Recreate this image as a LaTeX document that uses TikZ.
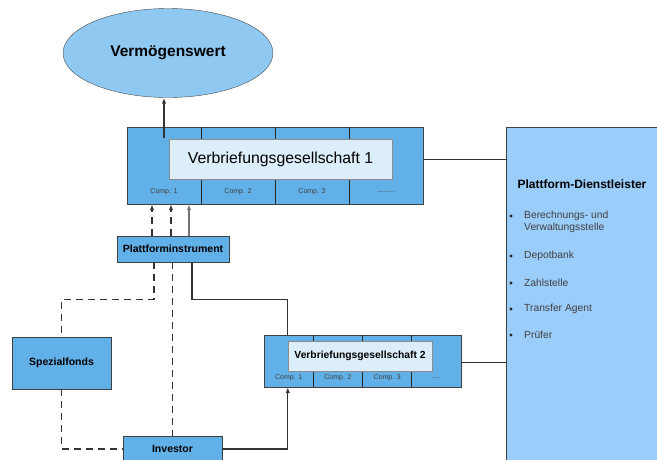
\documentclass[tikz,border=0pt]{standalone}
\usepackage{fontspec}
\setmainfont{Liberation Sans}
\usetikzlibrary{arrows.meta,shapes.geometric}
\definecolor{boxblue}{HTML}{62B0E8}
\definecolor{assetblue}{HTML}{8FC8F0}
\definecolor{paleblue}{HTML}{DCEEFA}
\definecolor{sideblue}{HTML}{9BCDFA}
\definecolor{linegray}{HTML}{333333}
\begin{document}
\begin{tikzpicture}[x=1pt, y=-1pt, >={Latex[length=6pt,width=4.5pt]},
  box/.style={draw=black!75, fill=boxblue, rectangle, inner sep=0pt},
  inbox/.style={draw=black!45, fill=paleblue, rectangle, inner sep=0pt},
  comp/.style={font=\fontsize{7}{8}\selectfont, text=black!75},
  item/.style={font=\fontsize{10.3}{12}\selectfont, text=black!75, inner sep=0pt},
  conn/.style={draw=linegray, line width=1.2pt},
  dashconn/.style={conn, dash pattern=on 7pt off 5pt}]
\useasboundingbox (0,0) rectangle (657,459);

% Asset
\node[draw=black!70, fill=assetblue, ellipse, minimum width=210pt, minimum height=89pt, inner sep=0pt,
  font=\fontsize{15.5}{18}\selectfont\bfseries] (asset) at (168,53) {Vermögenswert};

% Service provider
\node[box, fill=sideblue, minimum width=156pt, minimum height=335pt] (pd) at (584,294.5) {};
\node[font=\fontsize{12}{14}\selectfont\bfseries] (pdtitle) at (582,184) {Plattform-Dienstleister};
\node[item, anchor=west, align=left] (pd1) at (524,222) {Berechnungs- und\\Verwaltungsstelle};
\foreach \i/\y/\txt in {2/256/Depotbank, 3/283/Zahlstelle, 4/309/Transfer Agent, 5/335/Prüfer}
  \node[item, anchor=west] (pd\i) at (524,\y) {\txt};
\foreach \i/\y in {1/216, 2/256, 3/283, 4/309, 5/335}
  \node[circle, fill=black!85, inner sep=0pt, minimum size=3.2pt] (bul\i) at (511,\y) {};

% Securitisation vehicle 1
\node[box, minimum width=296pt, minimum height=77pt] (vg1) at (275,165.5) {};
\foreach \i in {1,2,3}
  \draw[black!85] ([xshift=\i*74pt]vg1.north west) -- ([xshift=\i*74pt]vg1.south west);
\foreach \i/\txt in {1/Comp. 1, 2/Comp. 2, 3/Comp. 3, 4/{.........}}
  \node[comp] (vgc\i) at (90+\i*74,192) {\txt};
\node[inbox, minimum width=223pt, minimum height=40pt, font=\fontsize{15.8}{18}\selectfont] (vg1name) at (280.5,159) {Verbriefungsgesellschaft 1};

% Securitisation vehicle 2
\node[box, minimum width=197pt, minimum height=52pt] (vg2) at (362.5,361) {};
\foreach \i in {1,2,3}
  \draw[black!85] ([xshift=\i*49.25pt]vg2.north west) -- ([xshift=\i*49.25pt]vg2.south west);
\foreach \i/\txt in {1/Comp. 1, 2/Comp. 2, 3/Comp. 3, 4/{....}}
  \node[comp] (vgd\i) at (239.4+\i*49.25,378) {\txt};
\node[inbox, minimum width=144pt, minimum height=30pt, font=\fontsize{10.3}{12}\selectfont\bfseries] (vg2name) at (360,356) {Verbriefungsgesellschaft 2};

% Instrument, fund, investor
\node[box, minimum width=112pt, minimum height=26pt, font=\fontsize{10.5}{12}\selectfont\bfseries] (pi) at (173,249) {Plattforminstrument};
\node[box, minimum width=99pt, minimum height=52pt, font=\fontsize{10.5}{12}\selectfont\bfseries] (sf) at (61.5,363) {Spezialfonds};
\node[box, minimum width=99pt, minimum height=26pt, font=\fontsize{10.5}{12}\selectfont\bfseries] (inv) at (172.5,449) {Investor};

% Arrows
\coordinate (c1top) at (164,138);
\draw[conn,->] (c1top) -- (c1top |- asset.south);
\draw[dashconn,->] ([xshift=-21pt]pi.north) -- ([xshift=-21pt]pi.north |- vg1.south);
\draw[dashconn,->] ([xshift=-2pt]pi.north) -- ([xshift=-2pt]pi.north |- vg1.south);
\draw[conn,draw=black!55,->] ([xshift=16pt]pi.north) -- ([xshift=16pt]pi.north |- vg1.south);
\draw[dashconn] ([xshift=-19pt]pi.south) -- ++(0,37) -| (sf.north);
\draw[dashconn] (sf.south) |- (inv.west);
\draw[dashconn] (pi.south -| inv.north) -- (inv.north);
\draw[conn] ([xshift=19pt]pi.south) -- ++(0,37) -| ([xshift=24pt]vg2.north west);
\draw[conn,->] (inv.east) -| ([xshift=24pt]vg2.south west);
\draw[conn,line width=0.7pt] ([yshift=6pt]vg1.east) -- ([yshift=6pt]vg1.east -| pd.west);
\draw[conn,line width=0.7pt] ([yshift=-1pt]vg2.east) -- ([yshift=-1pt]vg2.east -| pd.west);
\end{tikzpicture}
\end{document}
